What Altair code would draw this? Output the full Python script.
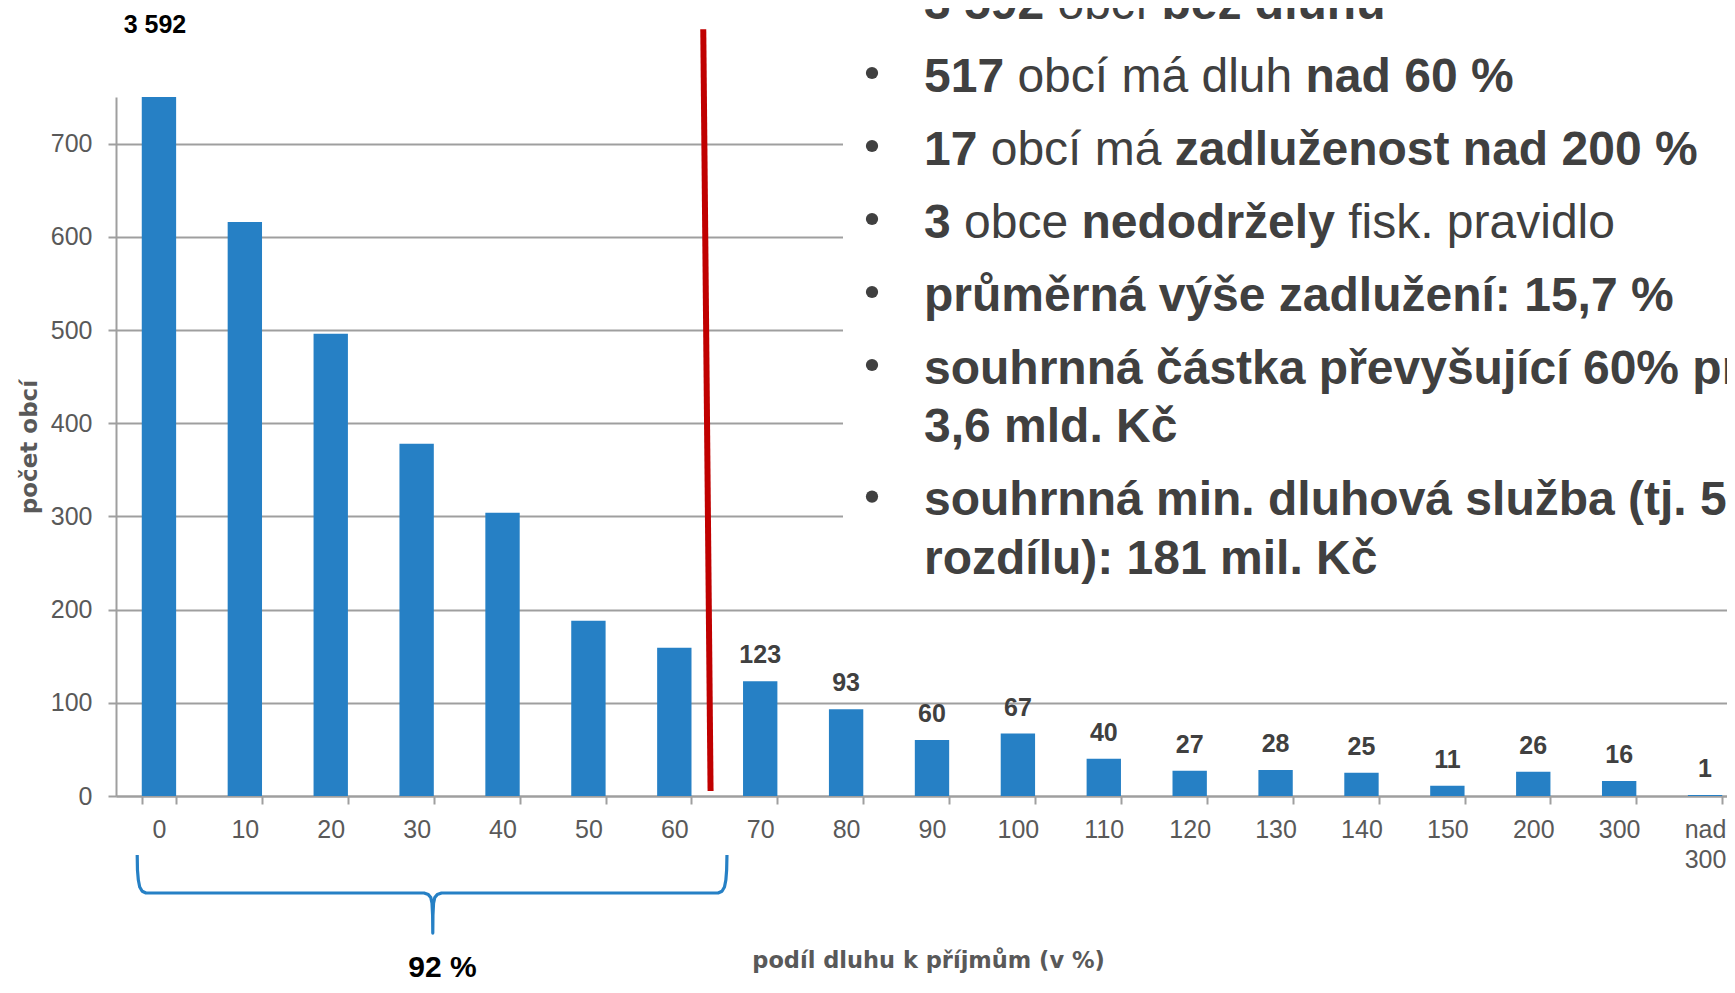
import unicodedata
import altair as alt
import pandas as pd

# ---------------- data ----------------
categories = ["0", "10", "20", "30", "40", "50", "60", "70", "80", "90", "100",
              "110", "120", "130", "140", "150", "200", "300", "nad 300"]
counts = [3592, 616, 496, 378, 304, 188, 159, 123, 93, 60, 67, 40, 27, 28, 25, 11, 26, 16, 1]
y_ticks = [0, 100, 200, 300, 400, 500, 600, 700]
y_max = 750
labelled_from = 7          # value labels shown from category "70" on
share_text = "92 %"
x_title = "podíl dluhu k příjmům (v %)"
y_title = "počet obcí"

# bullet text: (segment, bold)
text_lines = [
    [("3 592", True), (" obcí ", False), ("bez dluhu", True)],
    [("517", True), (" obcí má dluh ", False), ("nad 60 %", True)],
    [("17", True), (" obcí má ", False), ("zadluženost nad 200 %", True)],
    [("3", True), (" obce ", False), ("nedodržely", True), (" fisk. pravidlo", False)],
    [("průměrná výše zadlužení: 15,7 %", True)],
    [("souhrnná částka převyšující 60% pr", True)],
    [("3,6 mld. Kč", True)],
    [("souhrnná min. dluhová služba (tj. 5", True)],
    [("rozdílu): 181 mil. Kč", True)],
]
has_bullet = [True, True, True, True, True, True, False, True, False]

# ---------------- styling / layout ----------------
BLUE = "#2680C5"
RED = "#C00000"
DARK = "#404040"
GREY = "#595959"
AX = "#9f9f9f"
FONT = "Liberation Sans"
TFONT = "DejaVu Sans"
W, H = 1611, 699
RANGE_W = 1632           # 19 bands of ~85.9 px, the last one runs past the page edge
N = len(categories)

df = pd.DataFrame({
    "cat": categories,
    "count": counts,
    "idx": list(range(N)),
    "label": [f"{c:,}".replace(",", " ") for c in counts],
})

band_scale = alt.Scale(domain=categories, range=[0, RANGE_W], paddingInner=0.6, paddingOuter=0.3)
pos_scale = alt.Scale(domain=[0, N], range=[0, RANGE_W])
y_scale = alt.Scale(domain=[0, y_max], nice=False)

x_main = alt.X(
    "cat:N", sort=categories, scale=band_scale,
    axis=alt.Axis(
        title=x_title, labelAngle=0, tickBand="extent", grid=False,
        domainColor=AX, domainWidth=2, tickColor=AX, tickWidth=2, tickSize=8,
        labelFont=FONT, labelFontSize=25, labelColor=GREY, labelPadding=13,
        labelLineHeight=30,
        labelExpr="datum.value == 'nad 300' ? ['nad', '300'] : datum.value",
        titleFont=TFONT, titleFontSize=22.5, titleFontWeight="bold", titleColor=GREY,
        titleX=812, titleY=171, titleAlign="center", titleBaseline="alphabetic",
    ),
)
y_main = alt.Y(
    "count:Q", scale=y_scale,
    axis=alt.Axis(
        title=y_title, values=y_ticks, grid=True, gridColor=AX, gridWidth=2,
        domainColor=AX, domainWidth=2, tickColor=AX, tickWidth=2, tickSize=8,
        labelFont=FONT, labelFontSize=25, labelColor=GREY, labelPadding=16,
        titleFont=TFONT, titleFontSize=23, titleFontWeight="bold", titleColor=GREY,
        titleAngle=270, titleX=-80, titleY=349.5, titleAlign="center",
        titleBaseline="alphabetic",
    ),
)

bars = alt.Chart(df).mark_bar(color=BLUE, clip=True).encode(x=x_main, y=y_main)

x_plain = alt.X("cat:N", sort=categories, scale=band_scale, axis=None)
y_plain = alt.Y("count:Q", scale=y_scale, axis=None)

value_labels = alt.Chart(df).transform_filter(f"datum.idx >= {labelled_from}").mark_text(
    font=FONT, fontSize=25, fontWeight="bold", color=DARK, dy=-18,
    baseline="alphabetic", align="center",
).encode(x=x_plain, y=y_plain, text="label:N")

top_label = alt.Chart(df).transform_filter("datum.idx == 0").mark_text(
    font=FONT, fontSize=25, fontWeight="bold", color="black",
    baseline="alphabetic", align="center", dx=-4,
).encode(x=x_plain, y=alt.value(-64), text="label:N")

# white panel behind the bullet text (hides the upper grid lines)
panel = alt.Chart(pd.DataFrame({"a": [0]})).mark_rect(color="white").encode(
    x=alt.value(727), x2=alt.value(1700), y=alt.value(-120), y2=alt.value(498)
)

# red threshold line between 60 and 70 (category-position units, counts)
red_df = pd.DataFrame({"pos": [6.837, 6.922], "val": [822.6, 5.4]})
red = alt.Chart(red_df).mark_line(color=RED, strokeWidth=6, strokeCap="butt").encode(
    x=alt.X("pos:Q", scale=pos_scale, axis=None),
    y=alt.Y("val:Q", scale=y_scale, axis=None),
)

# curly brace under categories 0-60
brace_pts = [
    (0.247, -63.3), (0.250, -79.5), (0.260, -90.2), (0.276, -97.7), (0.305, -102.2),
    (0.349, -104.1), (3.586, -104.1), (3.636, -105.8), (3.665, -109.0), (3.679, -114.9),
    (3.686, -127.8), (3.688, -147.1), (3.690, -127.8), (3.697, -114.9), (3.711, -109.0),
    (3.740, -105.8), (3.790, -104.1), (7.010, -104.1), (7.055, -102.2), (7.084, -97.7),
    (7.100, -90.2), (7.109, -79.5), (7.113, -63.3),
]
brace_df = pd.DataFrame({
    "i": list(range(len(brace_pts))),
    "pos": [p[0] for p in brace_pts],
    "val": [p[1] for p in brace_pts],
})
brace = alt.Chart(brace_df).mark_line(color=BLUE, strokeWidth=3.2, strokeJoin="round").encode(
    x=alt.X("pos:Q", scale=pos_scale, axis=None),
    y=alt.Y("val:Q", scale=y_scale, axis=None),
    order=alt.Order("i:Q"),
)

pct = alt.Chart(pd.DataFrame({"pos": [3.80], "val": [-194.3], "t": [share_text]})).mark_text(
    font=FONT, fontSize=30, fontWeight="bold", color="black",
    align="center", baseline="alphabetic",
).encode(
    x=alt.X("pos:Q", scale=pos_scale, axis=None),
    y=alt.Y("val:Q", scale=y_scale, axis=None),
    text="t:N",
)

# ---------------- bullet text block ----------------
FS = 48
REG_W = {' ': 278, '%': 889, '(': 333, ')': 333, ',': 278, '.': 278, ':': 278,
         'a': 556, 'b': 556, 'c': 500, 'd': 556, 'e': 556, 'f': 278, 'g': 556, 'h': 556,
         'i': 222, 'j': 222, 'k': 500, 'l': 222, 'm': 833, 'n': 556, 'o': 556, 'p': 556,
         'r': 333, 's': 500, 't': 278, 'u': 556, 'v': 500, 'y': 500, 'z': 500, 'K': 667,
         'í': 278}
BOLD_W = {' ': 278, '%': 889, '(': 333, ')': 333, ',': 278, '.': 278, ':': 333,
          'a': 556, 'b': 611, 'c': 556, 'd': 611, 'e': 556, 'f': 333, 'g': 611, 'h': 611,
          'i': 278, 'j': 278, 'k': 556, 'l': 278, 'm': 889, 'n': 611, 'o': 611, 'p': 611,
          'r': 389, 's': 556, 't': 333, 'u': 611, 'v': 556, 'y': 556, 'z': 500, 'K': 722,
          'í': 278}


def text_width(s, bold):
    tbl = BOLD_W if bold else REG_W
    total = 0
    for ch in s:
        if ch in tbl:
            total += tbl[ch]
        elif ch.isdigit():
            total += 556
        else:
            total += tbl.get(unicodedata.normalize("NFD", ch)[0], 556)
    return total / 1000 * FS


TEXT_X = 808
BULLET_X = 756
FIRST_BASE = -78.3
GAP_BULLET = 73
GAP_CONT = 58.6

rows = []
bullets = []
base = FIRST_BASE
for k, line in enumerate(text_lines):
    if k > 0:
        base += GAP_BULLET if has_bullet[k] else GAP_CONT
    if has_bullet[k]:
        bullets.append({"bx": BULLET_X, "by": base - 18.7})
    cursor = TEXT_X
    for seg, bold in line:
        lead = len(seg) - len(seg.lstrip(" "))
        start = cursor + text_width(" " * lead, bold)
        rows.append({"t": seg.strip(" "), "tx": start, "ty": base, "bold": bold})
        cursor += text_width(seg, bold)

tdf = pd.DataFrame(rows)


def text_layer(bold):
    return alt.Chart(tdf[tdf["bold"] == bold]).mark_text(
        font=FONT, fontSize=FS, fontWeight="bold" if bold else "normal", color=DARK,
        align="left", baseline="alphabetic",
    ).encode(
        x=alt.X("tx:Q", scale=None), y=alt.Y("ty:Q", scale=None), text="t:N"
    )


bullet_layer = alt.Chart(pd.DataFrame(bullets)).mark_circle(size=150, color=DARK, opacity=1).encode(
    x=alt.X("bx:Q", scale=None), y=alt.Y("by:Q", scale=None)
)

chart = alt.layer(
    bars, panel, red, brace, pct, value_labels, top_label,
    bullet_layer, text_layer(False), text_layer(True),
).resolve_scale(x="independent").resolve_axis(x="independent", y="independent").properties(
    width=W, height=H,
    autosize=alt.AutoSizeParams(type="none"),
    padding={"left": 108, "top": 89, "right": 0, "bottom": 189},
).configure_view(stroke=None)

chart.save("out.html", embed_options={"renderer": "svg", "actions": False})
